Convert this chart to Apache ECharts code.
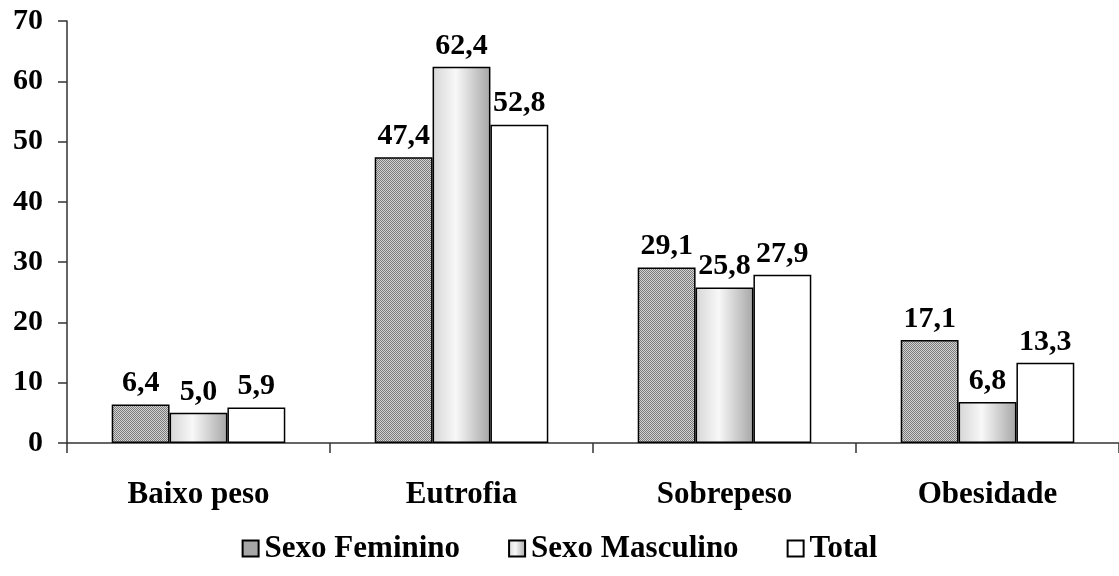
<!DOCTYPE html>
<html>
<head>
<meta charset="utf-8">
<script src="https://cdn.jsdelivr.net/npm/echarts@6/dist/echarts.min.js"></script>
<style>html,body{margin:0;padding:0;background:#fff}#c{width:1119px;height:576px}</style>
</head>
<body>
<div id="c"></div>
<script>
const categories = ['Baixo peso', 'Eutrofia', 'Sobrepeso', 'Obesidade'];
const seriesNames = ['Sexo Feminino', 'Sexo Masculino', 'Total'];
const feminino = [6.4, 47.4, 29.1, 17.1];
const masculino = [5.0, 62.4, 25.8, 6.8];
const total = [5.9, 52.8, 27.9, 13.3];
const yTicks = [0, 10, 20, 30, 40, 50, 60, 70];

const pc = document.createElement('canvas');
pc.width = 2; pc.height = 2;
const pctx = pc.getContext('2d');
pctx.fillStyle = '#d4d4d4'; pctx.fillRect(0, 0, 2, 2);
pctx.fillStyle = '#7a7a7a'; pctx.fillRect(0, 0, 1, 1); pctx.fillRect(1, 1, 1, 1);
const femFill = { image: pc, repeat: 'repeat' };
const mascFill = new echarts.graphic.LinearGradient(0, 0, 1, 0, [
  { offset: 0, color: '#d6d6d6' },
  { offset: 0.4, color: '#f8f8f8' },
  { offset: 1, color: '#a6a6a6' }
]);
const fills = [femFill, mascFill, '#ffffff'];
const datas = [feminino, masculino, total];
const font = '"Liberation Serif", "Times New Roman", serif';
const fmt = v => v.toFixed(1).replace('.', ',');

const chart = echarts.init(document.getElementById('c'), null, { renderer: 'canvas' });
chart.setOption({
  animation: false,
  backgroundColor: '#fff',
  grid: { left: 67, right: 0, top: 21, bottom: 133, containLabel: false },
  legend: {
    data: seriesNames,
    bottom: 7,
    left: 'center',
    itemWidth: 16,
    itemHeight: 16,
    itemGap: 48,
    icon: 'rect',
    textStyle: { fontFamily: font, fontWeight: 'bold', fontSize: 31, color: '#000', padding: [0, 0, 0, 1] }
  },
  xAxis: {
    type: 'category',
    data: categories,
    axisLine: { lineStyle: { color: '#333', width: 1.5 } },
    axisTick: { show: true, length: 10, lineStyle: { color: '#333', width: 1.5 } },
    axisLabel: { fontFamily: font, fontWeight: 'bold', fontSize: 31, color: '#000', margin: 36 }
  },
  yAxis: {
    type: 'value',
    min: yTicks[0],
    max: yTicks[yTicks.length - 1],
    interval: 10,
    axisLine: { show: true, lineStyle: { color: '#333', width: 1.5 } },
    axisTick: { show: true, length: 9, lineStyle: { color: '#333', width: 1.5 } },
    splitLine: { show: false },
    axisLabel: { fontFamily: font, fontWeight: 'bold', fontSize: 30, color: '#000', margin: 24 }
  },
  series: seriesNames.map((name, i) => ({
    name,
    type: 'bar',
    data: datas[i],
    barGap: '0%',
    barCategoryGap: '34%',
    itemStyle: { color: fills[i], borderColor: '#000', borderWidth: 1.5 },
    label: {
      show: true,
      position: 'top',
      distance: 6,
      formatter: p => fmt(p.value),
      fontFamily: font, fontWeight: 'bold', fontSize: 30, color: '#000'
    }
  }))
});
</script>
</body>
</html>
